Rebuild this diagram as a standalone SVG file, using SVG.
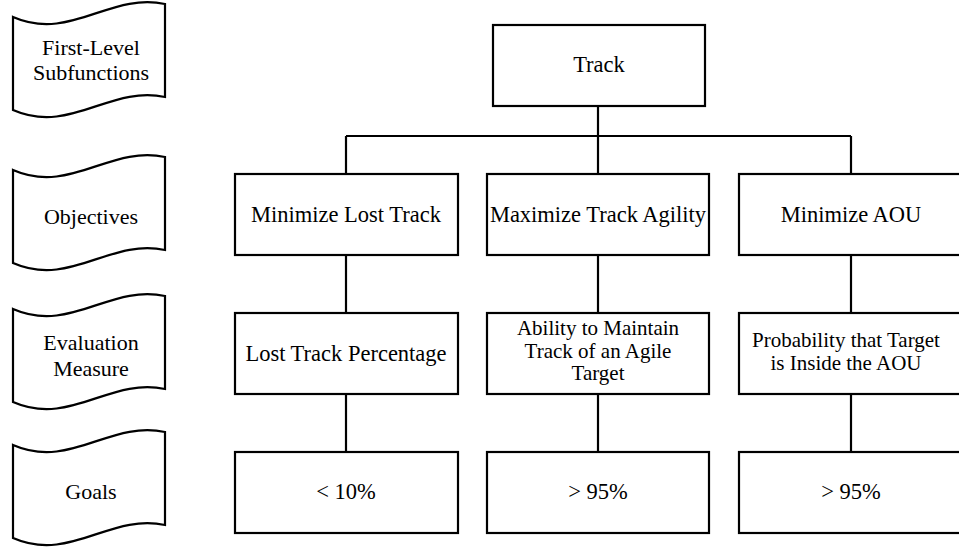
<svg xmlns="http://www.w3.org/2000/svg" width="959" height="554" viewBox="0 0 959 554">
<defs>
<path id="wave" d="M13,0 C70,25 110,-25 165,-13 L165,80 C110,68 70,118 13,93 Z"/>
</defs>
<g fill="#fff" stroke="#000" stroke-width="2.2">
<g id="banner-first"><use href="#wave" transform="translate(0,17)"/></g>
<g id="banner-objectives"><use href="#wave" transform="translate(0,170)"/></g>
<g id="banner-eval"><use href="#wave" transform="translate(0,309)"/></g>
<g id="banner-goals"><use href="#wave" transform="translate(0,445)"/></g>
</g>
<g id="connectors" stroke="#000" stroke-width="2.2" fill="none">
<line x1="598" y1="106" x2="598" y2="136"/>
<line x1="346" y1="136" x2="851" y2="136"/>
<line x1="346" y1="136" x2="346" y2="174"/>
<line x1="598" y1="136" x2="598" y2="174"/>
<line x1="851" y1="136" x2="851" y2="174"/>
<line x1="346" y1="255" x2="346" y2="313"/>
<line x1="598" y1="255" x2="598" y2="313"/>
<line x1="851" y1="255" x2="851" y2="313"/>
<line x1="346" y1="394" x2="346" y2="452"/>
<line x1="598" y1="394" x2="598" y2="452"/>
<line x1="851" y1="394" x2="851" y2="452"/>
</g>
<g fill="#fff" stroke="#000" stroke-width="2.2">
<rect id="track" x="493" y="25" width="212" height="81"/>
<rect id="obj1" x="235" y="174" width="223" height="81"/>
<rect id="obj2" x="487" y="174" width="222" height="81"/>
<rect id="obj3" x="739" y="174" width="224" height="81"/>
<rect id="em1" x="235" y="313" width="223" height="81"/>
<rect id="em2" x="487" y="313" width="222" height="81"/>
<rect id="em3" x="739" y="313" width="224" height="81"/>
<rect id="g1" x="235" y="452" width="223" height="81"/>
<rect id="g2" x="487" y="452" width="222" height="81"/>
<rect id="g3" x="739" y="452" width="224" height="81"/>
</g>
<g id="labels" font-family="Liberation Serif" font-size="22.5" fill="#000" text-anchor="middle">
<text x="91" y="55" font-size="22">First-Level</text>
<text x="91" y="80" font-size="22">Subfunctions</text>
<text x="91" y="224" font-size="22">Objectives</text>
<text x="91" y="350" font-size="22">Evaluation</text>
<text x="91" y="376" font-size="22">Measure</text>
<text x="91" y="499" font-size="22">Goals</text>
<text x="599" y="72">Track</text>
<text x="346" y="222">Minimize Lost Track</text>
<text x="598" y="222">Maximize Track Agility</text>
<text x="851" y="222">Minimize AOU</text>
<text x="346" y="361">Lost Track Percentage</text>
<text x="598" y="335" font-size="21">Ability to Maintain</text>
<text x="598" y="357.5" font-size="21">Track of an Agile</text>
<text x="598" y="380" font-size="21">Target</text>
<text x="846" y="347" font-size="21">Probability that Target</text>
<text x="846" y="369.5" font-size="21">is Inside the AOU</text>
<text x="346" y="499">&lt; 10%</text>
<text x="598" y="499">&gt; 95%</text>
<text x="851" y="499">&gt; 95%</text>
</g>
</svg>
